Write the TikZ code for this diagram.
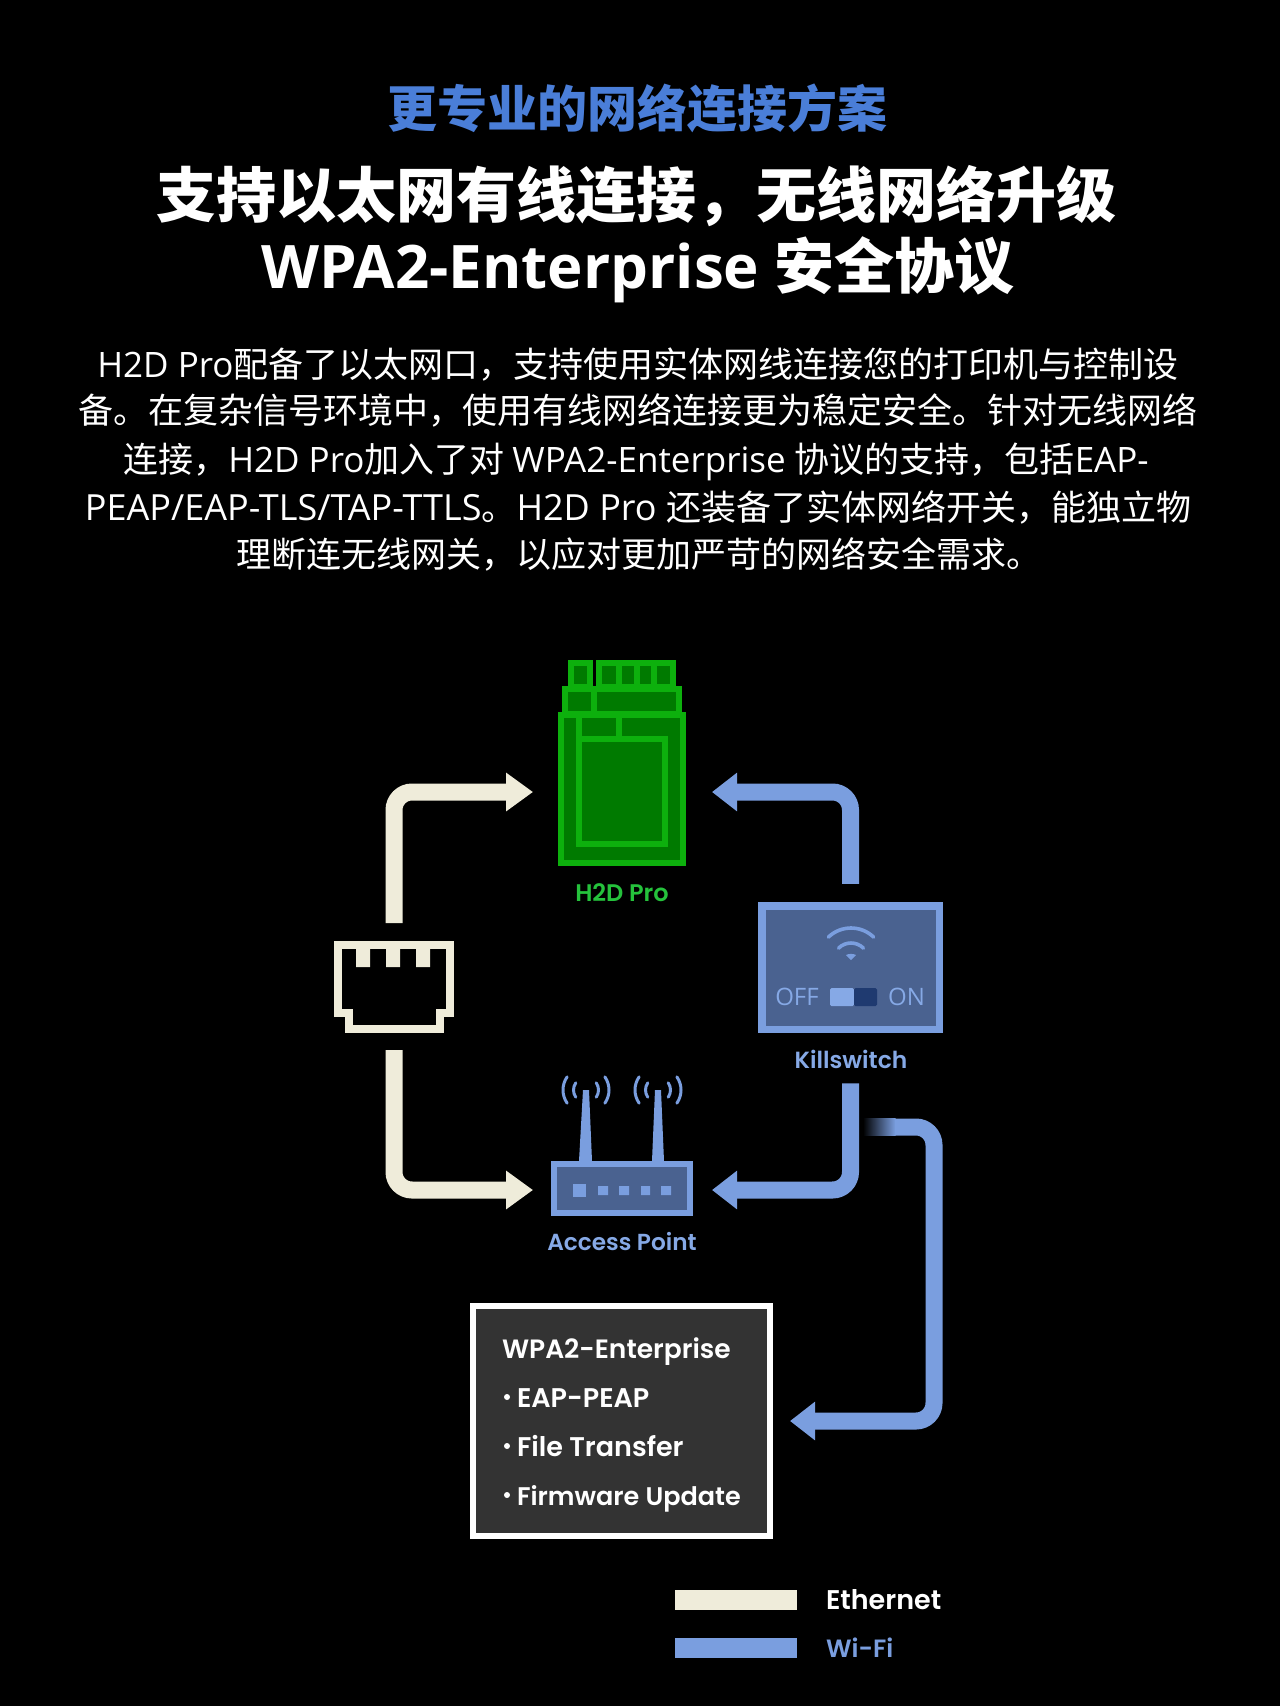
\documentclass[tikz,border=0pt]{standalone}
\usepackage{fontspec}
\usetikzlibrary{arrows.meta}
\newfontfamily\cjk{Noto Sans CJK SC}
\newfontfamily\lat{Open Sans}
\newfontfamily\lab{Poppins}[BoldFont={Poppins SemiBold}]
\definecolor{ethc}{HTML}{EFECDA}
\definecolor{wific}{HTML}{7A9EDF}
\definecolor{panelc}{HTML}{4A6290}
\definecolor{greenl}{HTML}{0DB00D}
\definecolor{greend}{HTML}{007A00}
\definecolor{labelg}{HTML}{25C23C}
\definecolor{labelb}{HTML}{86A9E6}
\definecolor{titleb}{HTML}{4A7ED8}
\definecolor{boxg}{HTML}{333333}
\definecolor{swdark}{HTML}{1F3A70}
\newcommand{\fs}[1]{\fontsize{#1}{#1}\selectfont}
\newcommand{\cm}{\char"FF0C\relax}
\tikzset{
  pipeeth/.style={draw=ethc,line width=17pt,rounded corners=18pt,-{Triangle[length=27pt,width=37pt]}},
  pipewifi/.style={draw=wific,line width=17pt,rounded corners=18pt,-{Triangle[length=25pt,width=37pt]}},
  gpart/.style={draw=greenl,fill=greend,line width=6pt,line join=miter},
  txtline/.style={anchor=base,text=white,inner sep=0pt,outer sep=0pt},
  lbl/.style={anchor=base,inner sep=0pt,outer sep=0pt},
  lblw/.style={anchor=base west,inner sep=0pt,outer sep=0pt},
  ghost/.style={inner sep=0pt,outer sep=0pt},
  wave/.style={draw=wific,line width=3pt,line cap=round},
  port/.style={fill=wific,draw=none},
}
\begin{document}
\begin{tikzpicture}[x=1pt,y=-1pt]
\useasboundingbox (0,0) rectangle (1280,1706);
\fill[black] (0,0) rectangle (1280,1706);
% titles
\node[txtline,text=titleb] (t1) at (637,127) {\fs{50}\cjk\bfseries 更专业的网络连接方案};
\node[txtline] (t2) at (636.5,217) {\fs{60}\cjk\bfseries 支持以太网有线连接\cm 无线网络升级};
\node[txtline] (t3) at (638,288) {\fs{60}\lat\bfseries WPA2-Enterprise \cjk 安全协议};
% body
\node[txtline] (b1) at (638,377) {\fs{35}\lat H2D Pro\cjk 配备了以太网口\cm 支持使用实体网线连接您的打印机与控制设};
\node[txtline] (b2) at (638,423) {\fs{35}\cjk 备。在复杂信号环境中\cm 使用有线网络连接更为稳定安全。针对无线网络};
\node[txtline] (b3) at (636,472) {\fs{35}\cjk 连接\cm\lat H2D Pro\cjk 加入了对 \lat WPA2-Enterprise \cjk 协议的支持\cm 包括\lat EAP-};
\node[txtline] (b4) at (638,520) {\fs{35}\lat\fontsize{36}{36}\selectfont PEAP/EAP-TLS/TAP-TTLS\cjk\fontsize{35}{35}\selectfont 。\lat\fontsize{36}{36}\selectfont H2D Pro \cjk\fontsize{35}{35}\selectfont 还装备了实体网络开关\cm 能独立物};
\node[txtline] (b5) at (639,567) {\fs{35}\cjk 理断连无线网关\cm 以应对更加严苛的网络安全需求。};
% H2D Pro printer
\node[ghost,minimum width=128pt,minimum height=206pt] (h2d) at (622,763) {};
\draw[gpart] (571,663) rectangle (589.5,687);
\draw[gpart] (599,663) rectangle (673,687);
\draw[greenl,line width=6pt] (619,662) -- (619,687) (637,662) -- (637,687) (654,662) -- (654,687);
\draw[gpart] (565,689) rectangle (679,714);
\draw[greenl,line width=6pt] (594,689) -- (594,714);
\draw[gpart] (561,715) rectangle (683,863);
\draw[gpart] (579,739) rectangle (665,844);
\draw[greenl,line width=6pt] (579,715) -- (579,739) (619,715) -- (619,739);
\node[lbl,text=labelg] (h2dl) at (622,901) {\fs{24}\lab\bfseries H2D Pro};
% RJ45 port
\node[ghost,minimum width=120pt,minimum height=92pt] (rj) at (394,987) {};
\draw[ethc,line width=7.5pt,line join=miter] (338,945) -- (450,945) -- (450,1013) -- (440,1013) -- (440,1029) -- (349,1029) -- (349,1013) -- (338,1013) -- cycle;
\fill[ethc] (356,941) rectangle (370,967) (386,941) rectangle (400,967) (416,941) rectangle (430,967);
% Killswitch
\node[ghost,draw=wific,fill=panelc,line width=7.5pt,minimum width=177.5pt,minimum height=123.5pt] (kill) at (850.5,967.5) {};
\draw[wific,line width=3.6pt,line cap=round] (851,960.6) ++(-134:32.6) arc (-134:-46:32.6);
\draw[wific,line width=3.6pt,line cap=round] (851,960.6) ++(-135:17.6) arc (-135:-45:17.6);
\fill[wific] (846,955) .. controls (849,953.5) and (853,953.5) .. (856,955) -- (851,960) -- cycle;
\node[lbl,text=labelb] (off) at (797,1005) {\fs{24}\lat OFF};
\node[lbl,text=labelb] (on) at (906.5,1005) {\fs{24}\lat ON};
\fill[labelb,rounded corners=1.5pt] (830,988) rectangle (854,1006);
\fill[swdark,rounded corners=1.5pt] (854,988) rectangle (877,1006);
\node[lbl,text=labelb] (killl) at (851,1068) {\fs{23.4}\lab\bfseries Killswitch};
% Access point
\node[ghost,draw=wific,fill=panelc,line width=6.5pt,minimum width=136pt,minimum height=49pt] (ap) at (622,1188.5) {};
\fill[wific] (579,1161) -- (583,1090) -- (589,1090) -- (592,1161) -- cycle;
\fill[wific] (652,1161) -- (655,1090) -- (661,1090) -- (664,1161) -- cycle;
\foreach \cx in {586,658}{
  \draw[wave] (\cx,1090) ++(35:23) arc (35:-35:23);
  \draw[wave] (\cx,1090) ++(145:23) arc (145:215:23);
  \draw[wave] (\cx,1090) ++(35:12.5) arc (35:-35:12.5);
  \draw[wave] (\cx,1090) ++(145:12.5) arc (145:215:12.5);
}
\fill[port] (573,1184) rectangle (586,1197);
\fill[port] (598,1186) rectangle (608,1195) (619,1186) rectangle (629,1195) (641,1186) rectangle (650,1195) (661,1186) rectangle (671,1195);
\node[lbl,text=labelb] (apl) at (622,1250) {\fs{23.2}\lab\bfseries Access Point};
% connectors
\draw[pipeeth,shorten <=18pt,shorten >=25pt] (rj.north) |- ([yshift=-29pt]h2d.west);
\draw[pipeeth,shorten <=17pt,shorten >=21pt] (rj.south) |- ([yshift=-1.5pt]ap.west);
\draw[pipewifi,shorten <=22pt,shorten >=26pt] (kill.north) |- ([yshift=-29pt]h2d.east);
\draw[pipewifi,shorten <=54pt,shorten >=22pt] (kill.south) |- ([yshift=-1.5pt]ap.east);
% WPA box
\node[ghost,draw=white,fill=boxg,line width=6pt,minimum width=297pt,minimum height=230pt] (box) at (621.5,1421) {};
\coordinate (wfstart) at (895,1127);
\coordinate (wfbend) at (934,1127);
\fill[left color=black,right color=wific,draw=none] (863,1118.5) rectangle (895.5,1135.5);
\draw[pipewifi,shorten >=20pt] (wfstart) -- (wfbend) |- (box.east);
\node[lblw,text=white] (w0) at (502,1358) {\fs{26.5}\lab\bfseries WPA2-Enterprise};
\fill[white] (507,1397) circle (3);
\node[lblw,text=white] (w1) at (517,1407) {\fs{27}\lab\bfseries EAP-PEAP};
\fill[white] (507,1446) circle (3);
\node[lblw,text=white] (w2) at (517,1456) {\fs{27}\lab\bfseries File Transfer};
\fill[white] (507,1495) circle (3);
\node[lblw,text=white] (w3) at (517,1505) {\fs{25.5}\lab\bfseries Firmware Update};
% legend
\node[ghost,fill=ethc,minimum width=122pt,minimum height=20pt] (leth) at (736,1600) {};
\node[ghost,fill=wific,minimum width=122pt,minimum height=20pt] (lwifi) at (736,1648) {};
\node[lblw,text=white] (teth) at (826,1609) {\fs{27}\lab\bfseries Ethernet};
\node[lblw,text=wific] (twifi) at (826,1657) {\fs{25}\lab\bfseries Wi-Fi};
\end{tikzpicture}
\end{document}
